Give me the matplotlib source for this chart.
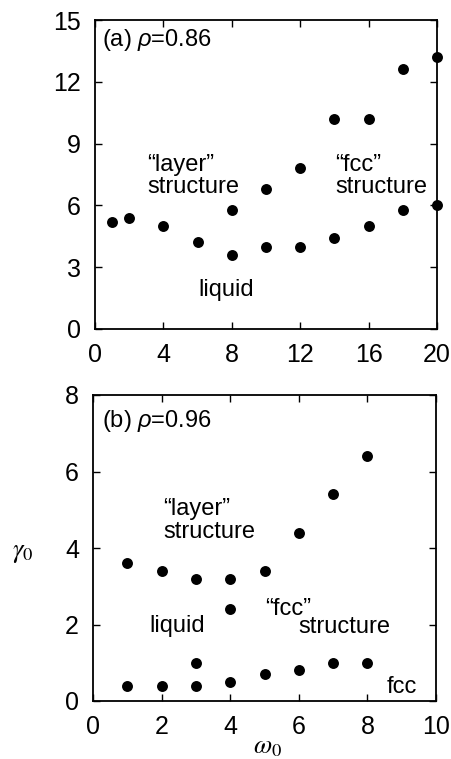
import matplotlib
matplotlib.use("Agg")
import matplotlib.pyplot as plt

plt.rcParams['font.family'] = ['Liberation Sans', 'DejaVu Sans']
plt.rcParams['mathtext.fontset'] = 'custom'
plt.rcParams['mathtext.it'] = 'Liberation Sans:italic'
plt.rcParams['mathtext.rm'] = 'Liberation Sans'

# panel (a), rho = 0.86
a_w = [1, 2, 4, 6, 8, 8, 10, 10, 12, 12, 14, 14, 16, 16, 18, 18, 20, 20]
a_g = [5.2, 5.4, 5.0, 4.2, 3.6, 5.8, 4.0, 6.8, 4.0, 7.8, 4.4, 10.2, 5.0, 10.2, 5.8, 12.6, 6.0, 13.2]

# panel (b), rho = 0.96
b_w = [1, 1, 2, 2, 3, 3, 3, 4, 4, 4, 5, 5, 6, 6, 7, 7, 8, 8]
b_g = [0.4, 3.6, 0.4, 3.4, 0.4, 1.0, 3.2, 0.5, 2.4, 3.2, 0.7, 3.4, 0.8, 4.4, 1.0, 5.4, 1.0, 6.4]

a_xticks = [0, 4, 8, 12, 16, 20]
a_yticks = [0, 3, 6, 9, 12, 15]
b_xticks = [0, 2, 4, 6, 8, 10]
b_yticks = [0, 2, 4, 6, 8]

W, H = 452, 759
fig = plt.figure(figsize=(W / 100, H / 100), dpi=100)
ax1 = fig.add_axes([95 / W, 1 - 329 / H, 342 / W, 309 / H])
ax2 = fig.add_axes([93 / W, 1 - 701 / H, 343 / W, 306 / H])


def style(ax, xt, yt):
    ax.set_xticks(xt)
    ax.set_yticks(yt)
    ax.set_xlim(xt[0], xt[-1])
    ax.set_ylim(yt[0], yt[-1])
    ax.tick_params(direction='in', top=True, right=True, length=5, width=1,
                   labelsize=18, pad=10)
    for s in ax.spines.values():
        s.set_linewidth(1.3)


style(ax1, a_xticks, a_yticks)
style(ax2, b_xticks, b_yticks)

ax1.scatter(a_w, a_g, s=62, c='black', linewidths=0, clip_on=False, zorder=3)
ax2.scatter(b_w, b_g, s=62, c='black', linewidths=0, clip_on=False, zorder=3)

fs = 17
kw = dict(fontsize=fs, ha='left', va='baseline')
ax1.text(0.41, 13.74, r'(a) $\rho$=0.86', **kw)
ax1.text(3.04, 7.66, '\u201clayer\u201d', **kw)
ax1.text(3.04, 6.60, 'structure', **kw)
ax1.text(6.02, 1.60, 'liquid', **kw)
ax1.text(14.04, 7.66, '\u201cfcc\u201d', **kw)
ax1.text(14.04, 6.60, 'structure', **kw)

ax2.text(0.26, 7.16, r'(b) $\rho$=0.96', **kw)
ax2.text(2.04, 4.86, '\u201clayer\u201d', **kw)
ax2.text(2.04, 4.27, 'structure', **kw)
ax2.text(1.63, 1.80, 'liquid', **kw)
ax2.text(5.01, 2.25, '\u201cfcc\u201d', **kw)
ax2.text(6.00, 1.78, 'structure', **kw)
ax2.text(8.57, 0.21, 'fcc', **kw)

fig.text(23 / W, 1 - 553 / H, r'$\gamma_0$', fontsize=19, ha='center', va='center',
         math_fontfamily='stix')
fig.text(267 / W, 1 - 747 / H, r'$\omega_0$', fontsize=19, ha='center', va='center',
         math_fontfamily='stix')

fig.savefig('out.png', dpi=100)
